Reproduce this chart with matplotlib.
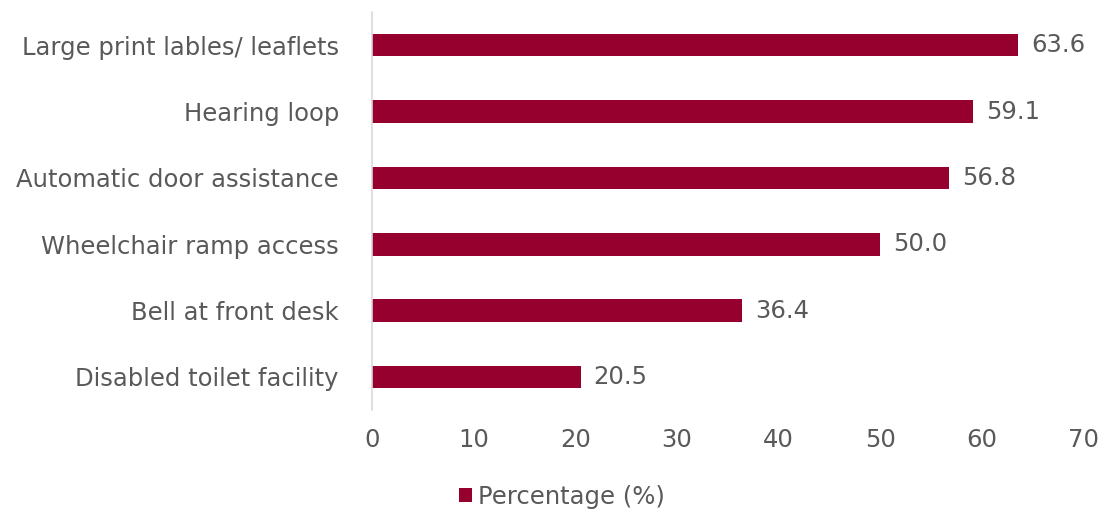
import matplotlib.pyplot as plt
from matplotlib.patches import Patch

categories = [
    "Large print lables/ leaflets",
    "Hearing loop",
    "Automatic door assistance",
    "Wheelchair ramp access",
    "Bell at front desk",
    "Disabled toilet facility",
]
percentages = [63.6, 59.1, 56.8, 50.0, 36.4, 20.5]
x_ticks = [0, 10, 20, 30, 40, 50, 60, 70]

bar_color = "#96002f"
text_color = "#595959"
font_size = 17.5

plt.rcParams["font.family"] = ["DejaVu Sans"]

fig = plt.figure(figsize=(11.06, 5.12), dpi=100)
ax = fig.add_axes([0.3366, 0.199, 0.9795 - 0.3366, 0.9766 - 0.199])

y = list(range(len(categories)))
ax.barh(y, percentages, height=0.34, color=bar_color)
ax.set_ylim(len(categories) - 0.5, -0.5)
ax.set_xlim(0, 70)

for yi, v in zip(y, percentages):
    ax.text(v + 1.3, yi, f"{v:.1f}", va="center", ha="left",
            fontsize=font_size, color=text_color)

ax.set_yticks(y)
ax.set_yticklabels(categories, fontsize=font_size, color=text_color)
ax.set_xticks(x_ticks)
ax.set_xticklabels([str(t) for t in x_ticks], fontsize=font_size, color=text_color)
ax.tick_params(axis="y", length=0, pad=24)
ax.tick_params(axis="x", length=0, pad=13)

for side in ["top", "right", "bottom"]:
    ax.spines[side].set_visible(False)
ax.spines["left"].set_color("#d9d9d9")
ax.spines["left"].set_linewidth(1.2)

handle = Patch(facecolor=bar_color, label="Percentage (%)")
fig.legend(handles=[handle], loc="lower center", bbox_to_anchor=(0.508, -0.036),
           frameon=False, fontsize=font_size, labelcolor=text_color,
           handlelength=0.55, handleheight=0.55, handletextpad=0.25)

fig.savefig("out.png", dpi=100)
